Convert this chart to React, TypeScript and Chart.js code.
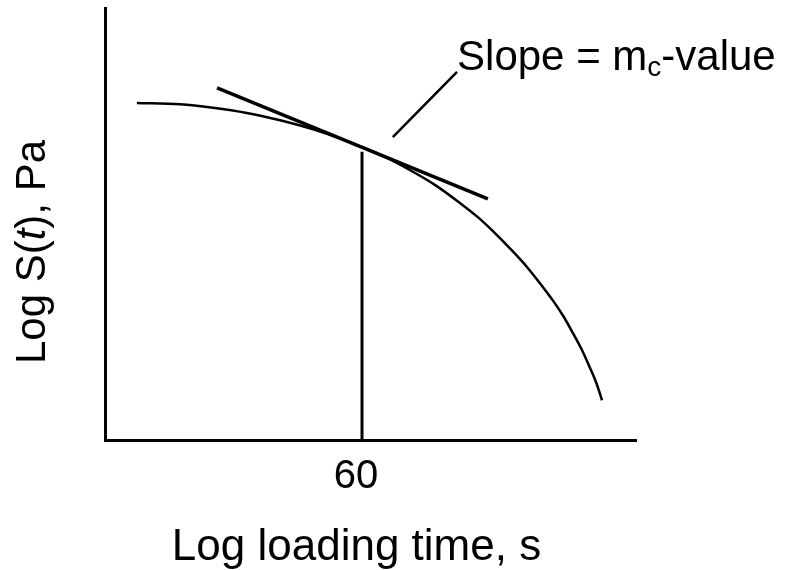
import React, { useEffect, useRef } from "react";
import { Chart, registerables } from "chart.js";

Chart.register(...registerables);

// Schematic data in abstract log units (x: log loading time, y: log S(t))
const curveX = [0.60, 1.41, 2.03, 2.67, 3.30, 3.92, 4.56, 4.84, 5.29, 5.74, 6.22, 6.69, 7.01, 7.31, 7.63, 7.95, 8.19, 8.44, 8.63, 8.81, 8.98, 9.13, 9.25, 9.36];
const curveY = [7.80, 7.77, 7.69, 7.57, 7.40, 7.19, 6.92, 6.78, 6.54, 6.25, 5.90, 5.48, 5.17, 4.83, 4.43, 4.00, 3.63, 3.22, 2.87, 2.48, 2.09, 1.68, 1.33, 0.92];
const tangentX = [2.11, 7.21];
const tangentY = [8.15, 5.58];
const markX = [4.84, 4.84];
const markY = [0, 6.67];
const leaderX = [5.42, 6.63];
const leaderY = [7.01, 8.52];
const tickValues = [4.84];
const tickLabels = ["60"];
const xTitle = "Log loading time, s";
const yTitleParts = [
  { text: "Log S(", italic: false },
  { text: "t", italic: true },
  { text: "), Pa", italic: false },
];
const annoMain = "Slope = m";
const annoSub = "c";
const annoTail = "-value";

const FONT = "Arial, 'Liberation Sans', sans-serif";

const pts = (xs: number[], ys: number[]) => xs.map((x, i) => ({ x, y: ys[i] }));

const textPlugin = {
  id: "texts",
  afterDraw(chart: any) {
    const ctx = chart.ctx;
    const xs = chart.scales.x;
    const ys = chart.scales.y;
    const area = chart.chartArea;
    ctx.save();
    ctx.fillStyle = "#000";
    ctx.textBaseline = "alphabetic";

    // Y title (rotated, mixed italic)
    const fs = 42;
    const fonts = yTitleParts.map((p) => (p.italic ? `italic ${fs}px ${FONT}` : `${fs}px ${FONT}`));
    const widths = yTitleParts.map((p, i) => {
      ctx.font = fonts[i];
      return ctx.measureText(p.text).width;
    });
    const total = widths.reduce((a, b) => a + b, 0);
    ctx.save();
    ctx.translate(area.left - 60, (area.top + area.bottom) / 2 + 28);
    ctx.rotate(-Math.PI / 2);
    let cx = -total / 2;
    ctx.textAlign = "left";
    yTitleParts.forEach((p, i) => {
      ctx.font = fonts[i];
      ctx.fillText(p.text, cx, 0);
      cx += widths[i];
    });
    ctx.restore();

    // X title
    ctx.font = `44px ${FONT}`;
    ctx.textAlign = "center";
    ctx.fillText(xTitle, (area.left + area.right) / 2 - 14, area.bottom + 120);

    // Annotation text at end of leader line
    const ax = xs.getPixelForValue(leaderX[1]);
    const ay = ys.getPixelForValue(leaderY[1]);
    ctx.textAlign = "left";
    let tx = ax;
    const by = ay - 2;
    ctx.font = `42px ${FONT}`;
    ctx.fillText(annoMain, tx, by);
    tx += ctx.measureText(annoMain).width;
    ctx.font = `28px ${FONT}`;
    ctx.fillText(annoSub, tx, by + 6);
    tx += ctx.measureText(annoSub).width;
    ctx.font = `42px ${FONT}`;
    ctx.fillText(annoTail, tx, by);
    ctx.restore();
  },
};

export default function App() {
  const ref = useRef<HTMLCanvasElement | null>(null);
  useEffect(() => {
    if (!ref.current) return;
    const chart = new Chart(ref.current, {
      type: "scatter",
      data: {
        datasets: [
          {
            data: pts(curveX, curveY),
            showLine: true,
            borderColor: "#000",
            borderWidth: 2.5,
            pointRadius: 0,
            cubicInterpolationMode: "monotone",
          },
          {
            data: pts(tangentX, tangentY),
            showLine: true,
            borderColor: "#000",
            borderWidth: 3.5,
            pointRadius: 0,
          },
          {
            data: pts(markX, markY),
            showLine: true,
            borderColor: "#000",
            borderWidth: 3,
            pointRadius: 0,
          },
          {
            data: pts(leaderX, leaderY),
            showLine: true,
            borderColor: "#000",
            borderWidth: 2.5,
            pointRadius: 0,
          },
        ],
      } as any,
      options: {
        animation: false,
        responsive: true,
        maintainAspectRatio: false,
        layout: { padding: { top: 8, right: 151, left: 0, bottom: 0 } },
        plugins: { legend: { display: false }, tooltip: { enabled: false } },
        scales: {
          x: {
            type: "linear",
            min: 0,
            max: 10,
            grid: { display: false, drawTicks: false },
            border: { display: true, color: "#000", width: 3 },
            afterFit: (s: any) => {
              s.height = 130;
            },
            afterBuildTicks: (s: any) => {
              s.ticks = tickValues.map((v) => ({ value: v }));
            },
            ticks: {
              color: "#000",
              padding: 13,
              labelOffset: -6,
              font: { family: FONT, size: 40 },
              callback: (v: any) => {
                const i = tickValues.indexOf(v);
                return i >= 0 ? tickLabels[i] : "";
              },
            },
          },
          y: {
            type: "linear",
            min: 0,
            max: 10,
            grid: { display: false, drawTicks: false },
            border: { display: true, color: "#000", width: 3 },
            ticks: { display: false },
            afterFit: (s: any) => {
              s.width = 105;
            },
          },
        },
      } as any,
      plugins: [textPlugin],
    });
    return () => chart.destroy();
  }, []);
  return (
    <div style={{ position: "absolute", left: 0, top: 0, width: 787, height: 570, background: "#fff" }}>
      <canvas ref={ref} />
    </div>
  );
}
